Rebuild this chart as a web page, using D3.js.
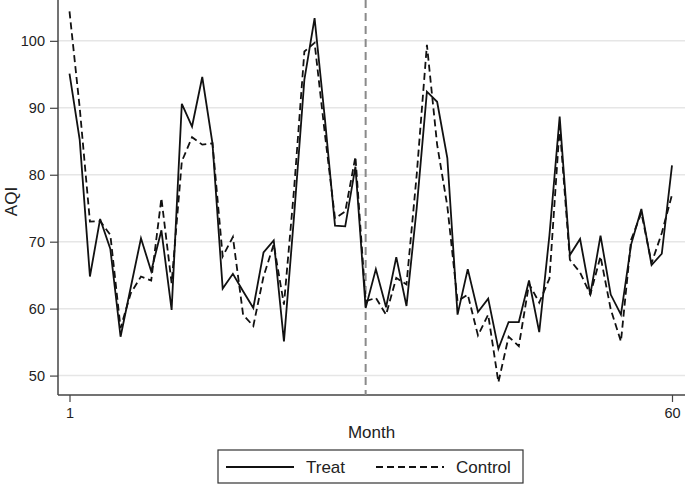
<!DOCTYPE html>
<html>
<head>
<meta charset="utf-8">
<script src="https://cdn.jsdelivr.net/npm/d3@7"></script>
<style>
  body { margin: 0; background: #fff; }
  svg { display: block; font-family: "Liberation Sans", Arial, sans-serif; }
</style>
</head>
<body>
<div id="chart"></div>
<script>
const months = d3.range(1, 61);
const treat = [
  95.1, 85.2, 64.8, 73.4, 68.9, 55.8, 63.2, 70.5, 65.6, 71.7,
  59.8, 90.6, 87.2, 94.6, 84.7, 63.0, 65.2, 62.6, 60.1, 68.4,
  70.2, 55.1, 74.0, 94.2, 103.4, 88.5, 72.4, 72.3, 81.2, 60.1,
  65.9, 60.2, 67.7, 60.4, 75.0, 92.4, 90.9, 82.5, 59.1, 65.9,
  59.5, 61.5, 54.0, 58.0, 58.0, 64.2, 56.5, 71.0, 88.7, 68.0,
  70.4, 62.1, 70.9, 62.1, 59.1, 69.6, 74.9, 66.5, 68.2, 81.4
];
const control = [
  104.4, 90.0, 73.0, 73.1, 71.0, 57.1, 62.3, 64.8, 64.2, 76.5,
  63.8, 82.0, 85.6, 84.5, 84.7, 67.8, 70.7, 59.1, 57.4, 64.8,
  69.6, 60.6, 78.0, 98.4, 99.7, 86.2, 73.5, 74.5, 82.7, 61.1,
  61.6, 59.1, 64.6, 63.6, 80.0, 99.4, 84.5, 75.3, 61.1, 62.1,
  56.0, 59.1, 49.0, 55.8, 54.4, 63.7, 60.9, 64.5, 87.2, 67.3,
  65.4, 62.1, 67.8, 59.9, 55.1, 70.3, 74.3, 66.8, 71.3, 77.0
];
const yTicks = [50, 60, 70, 80, 90, 100];
const xTicks = [1, 60];
const cutMonth = 30;
const seriesNames = ['Treat', 'Control'];

const width = 685, height = 485;
const margin = { top: 0, right: 0, bottom: 90, left: 58 };

const svg = d3.select('#chart').append('svg')
  .attr('width', width)
  .attr('height', height);

const x = d3.scaleLinear().domain([1, 60]).range([69.5, 672]);
const y = d3.scaleLinear().domain([47.1, 106.1]).range([height - margin.bottom, margin.top]);

// grid
svg.append('g')
  .selectAll('line')
  .data(yTicks)
  .join('line')
  .attr('x1', margin.left)
  .attr('x2', width - margin.right)
  .attr('y1', d => y(d))
  .attr('y2', d => y(d))
  .attr('stroke', '#e6e6e6')
  .attr('stroke-width', 1.5);

// axes
const yAxis = svg.append('g')
  .attr('transform', `translate(${margin.left},0)`)
  .call(d3.axisLeft(y).tickValues(yTicks).tickSize(8).tickPadding(5).tickSizeOuter(0));
yAxis.select('.domain').attr('stroke', '#444').attr('stroke-width', 1.5)
  .attr('d', `M0,0V${height - margin.bottom}`);
yAxis.selectAll('.tick line').attr('stroke', '#444').attr('stroke-width', 1.2);
yAxis.selectAll('.tick text').attr('font-size', 14.5).attr('fill', '#222')
  .attr('font-family', '"Liberation Sans", Arial, sans-serif');

const xAxis = svg.append('g')
  .attr('transform', `translate(0,${height - margin.bottom})`)
  .call(d3.axisBottom(x).tickValues(xTicks).tickFormat(d3.format('d')).tickSize(7).tickPadding(6).tickSizeOuter(0));
xAxis.select('.domain').attr('stroke', '#444').attr('stroke-width', 1.5)
  .attr('d', `M${margin.left},0H${width}`);
xAxis.selectAll('.tick line').attr('stroke', '#444').attr('stroke-width', 1.2);
xAxis.selectAll('.tick text').attr('font-size', 14.5).attr('fill', '#222')
  .attr('font-family', '"Liberation Sans", Arial, sans-serif');

// axis titles
svg.append('text')
  .attr('transform', `translate(17,${y(76)}) rotate(-90)`)
  .attr('text-anchor', 'middle')
  .attr('font-size', 17)
  .attr('fill', '#222')
  .text('AQI');
svg.append('text')
  .attr('x', (margin.left + width) / 2)
  .attr('y', 438)
  .attr('text-anchor', 'middle')
  .attr('font-size', 17)
  .attr('fill', '#222')
  .text('Month');

// treatment cutoff
svg.append('line')
  .attr('x1', x(cutMonth)).attr('x2', x(cutMonth))
  .attr('y1', 0).attr('y2', height - margin.bottom)
  .attr('stroke', '#8a8a8a')
  .attr('stroke-width', 2)
  .attr('stroke-dasharray', '8,5');

const line = d3.line().x((d, i) => x(months[i])).y(d => y(d));

svg.append('path')
  .datum(control)
  .attr('d', line)
  .attr('fill', 'none')
  .attr('stroke', '#111')
  .attr('stroke-width', 1.8)
  .attr('stroke-dasharray', '7,4');

svg.append('path')
  .datum(treat)
  .attr('d', line)
  .attr('fill', 'none')
  .attr('stroke', '#111')
  .attr('stroke-width', 1.8);

// legend
const lg = svg.append('g').attr('transform', 'translate(218,450)');
lg.append('rect')
  .attr('width', 305).attr('height', 33)
  .attr('fill', '#fff').attr('stroke', '#333').attr('stroke-width', 1.2);
const items = [
  { name: seriesNames[0], x0: 8, dash: null },
  { name: seriesNames[1], x0: 158, dash: '7,4' }
];
items.forEach(it => {
  lg.append('line')
    .attr('x1', it.x0).attr('x2', it.x0 + 68)
    .attr('y1', 17).attr('y2', 17)
    .attr('stroke', '#111').attr('stroke-width', 1.8)
    .attr('stroke-dasharray', it.dash);
  lg.append('text')
    .attr('x', it.x0 + 80).attr('y', 23)
    .attr('font-size', 17).attr('fill', '#222')
    .text(it.name);
});
</script>
</body>
</html>
